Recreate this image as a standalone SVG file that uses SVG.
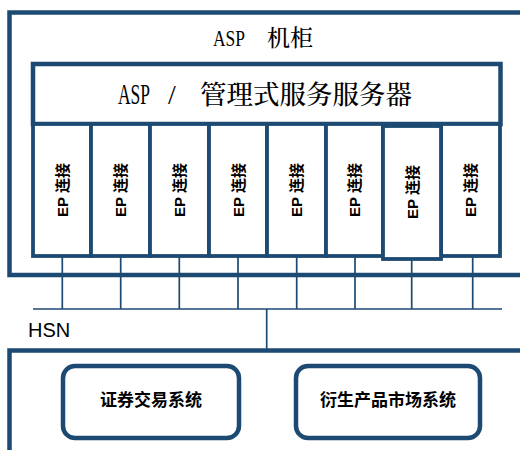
<svg xmlns="http://www.w3.org/2000/svg" width="520" height="450" viewBox="0 0 520 450">
<style>
.frame{fill:#ffffff;stroke:#1d4a72;stroke-width:4.5}
.ep{fill:#ffffff;stroke:#1d4a72;stroke-width:3.8}
.sys{fill:#ffffff;stroke:#1d4a72;stroke-width:4.5}
.ln{fill:none;stroke:#1d4a72;stroke-width:1.7}
.ttl{font-family:"Liberation Serif","Noto Serif CJK SC","Noto Sans CJK SC",serif;fill:#000}
.cjk{font-family:"Noto Serif CJK SC","Noto Sans CJK SC",serif;font-weight:500}
.eptx{font-family:"Liberation Sans","Noto Sans CJK SC",sans-serif;font-weight:bold;font-size:15px;fill:#000}
.systx{font-family:"Liberation Sans","Noto Sans CJK SC",sans-serif;font-weight:bold;font-size:17px;fill:#000}
.hsn{font-family:"Liberation Sans","Noto Sans CJK SC",sans-serif;font-size:20px;fill:#000}
</style>
<g id="asp-cabinet">
<rect class="frame" x="9.5" y="12.5" width="530" height="262.5"/>
<text class="ttl" y="46" font-size="23"><tspan x="213" font-size="24" textLength="32" lengthAdjust="spacingAndGlyphs">ASP</tspan> <tspan class="cjk" x="267">机柜</tspan></text>
</g>
<g id="asp-server">
<rect class="frame" x="33" y="64" width="467.5" height="60" stroke-width="4"/>
<text class="ttl" y="104" font-size="28"><tspan x="118" font-size="29" textLength="32" lengthAdjust="spacingAndGlyphs">ASP</tspan> <tspan x="168">/</tspan> <tspan class="cjk" x="200" font-size="26.5">管理式服务服务器</tspan></text>
</g>
<g id="ep1"><rect class="ep" x="33" y="124" width="58" height="132"/><text class="eptx" transform="translate(62,190) rotate(-90)" text-anchor="middle" dominant-baseline="central">EP 连接</text></g>
<g id="ep2"><rect class="ep" x="91" y="124" width="59" height="132"/><text class="eptx" transform="translate(120.5,190) rotate(-90)" text-anchor="middle" dominant-baseline="central">EP 连接</text></g>
<g id="ep3"><rect class="ep" x="150" y="124" width="59" height="132"/><text class="eptx" transform="translate(179.5,190) rotate(-90)" text-anchor="middle" dominant-baseline="central">EP 连接</text></g>
<g id="ep4"><rect class="ep" x="209" y="124" width="58" height="132"/><text class="eptx" transform="translate(238,190) rotate(-90)" text-anchor="middle" dominant-baseline="central">EP 连接</text></g>
<g id="ep5"><rect class="ep" x="267" y="124" width="59" height="132"/><text class="eptx" transform="translate(296.5,190) rotate(-90)" text-anchor="middle" dominant-baseline="central">EP 连接</text></g>
<g id="ep6"><rect class="ep" x="326" y="124" width="57" height="132"/><text class="eptx" transform="translate(354.5,190) rotate(-90)" text-anchor="middle" dominant-baseline="central">EP 连接</text></g>
<g id="ep8"><rect class="ep" x="441" y="124" width="59" height="132"/><text class="eptx" transform="translate(470.5,190) rotate(-90)" text-anchor="middle" dominant-baseline="central">EP 连接</text></g>
<g id="ep7"><rect class="ep" x="383" y="126" width="58" height="133"/><text class="eptx" transform="translate(412,192) rotate(-90)" text-anchor="middle" dominant-baseline="central">EP 连接</text></g>
<g id="connectors">
<line class="ln" x1="62.3" y1="256" x2="62.3" y2="309"/>
<line class="ln" x1="120.7" y1="256" x2="120.7" y2="309"/>
<line class="ln" x1="179.3" y1="256" x2="179.3" y2="309"/>
<line class="ln" x1="238" y1="256" x2="238" y2="309"/>
<line class="ln" x1="296.7" y1="256" x2="296.7" y2="309"/>
<line class="ln" x1="355" y1="256" x2="355" y2="309"/>
<line class="ln" x1="411.7" y1="259" x2="411.7" y2="309"/>
<line class="ln" x1="472.7" y1="256" x2="472.7" y2="309"/>
<line class="ln" x1="33" y1="309" x2="502" y2="309"/>
<line class="ln" x1="266.7" y1="309" x2="266.7" y2="350"/>
</g>
<g id="hsn"><text class="hsn" x="28" y="337">HSN</text></g>
<g id="market">
<rect class="frame" x="9.5" y="350.5" width="530" height="120"/>
</g>
<g id="securities">
<rect class="sys" x="63" y="366" width="176" height="72" rx="12"/>
<text class="systx" x="151" y="400" text-anchor="middle" dominant-baseline="central">证券交易系统</text>
</g>
<g id="derivatives">
<rect class="sys" x="296" y="366" width="184" height="72" rx="12"/>
<text class="systx" x="388" y="400" text-anchor="middle" dominant-baseline="central">衍生产品市场系统</text>
</g>
</svg>
